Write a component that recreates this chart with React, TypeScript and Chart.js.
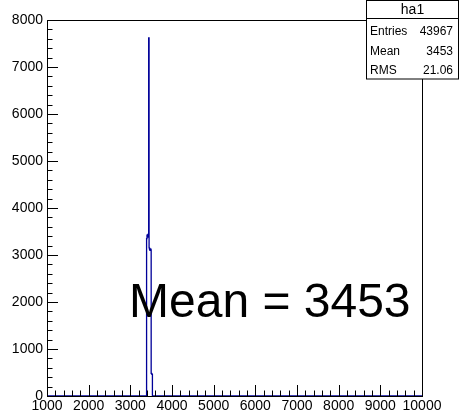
import { useEffect, useRef } from "react";
import { Chart, registerables } from "chart.js";

Chart.register(...registerables);

// Histogram "ha1": bin low edges and counts (bin width 10)
const binLowEdges = [3390, 3400, 3410, 3420, 3430, 3440, 3450, 3460, 3470, 3480, 3490, 3500, 3510, 3520];
const binWidth = 10;
const binCounts = [3350, 3420, 3380, 3440, 3410, 7620, 3150, 3120, 3100, 3130, 3110, 480, 470, 460];

const xMin = 1000;
const xMax = 10000;
const xMajorStep = 1000;
const xMinorStep = 200;
const yMin = 0;
const yMax = 8000;
const yMajorStep = 1000;
const yMinorStep = 200;

const statsTitle = "ha1";
const statsLabels = ["Entries", "Mean", "RMS"];
const statsValues = ["43967", "3453", "21.06"];
const annotationText = "Mean = 3453";

const FONT = "'Liberation Sans', Arial, Helvetica, sans-serif";
const LINE_COLOR = "#000099";

function buildOutline() {
  const pts: { x: number; y: number }[] = [{ x: xMin, y: 0 }];
  binLowEdges.forEach((e, i) => pts.push({ x: e, y: binCounts[i] }));
  pts.push({ x: binLowEdges[binLowEdges.length - 1] + binWidth, y: 0 });
  pts.push({ x: xMax, y: 0 });
  return pts;
}

const rootDecor = {
  id: "rootDecor",
  afterDraw(chart: any) {
    const ctx = chart.ctx as CanvasRenderingContext2D;
    const { left, right, top, bottom } = chart.chartArea;
    const xs = chart.scales.x;
    const ys = chart.scales.y;
    ctx.save();
    ctx.strokeStyle = "#000";
    ctx.lineWidth = 1;
    // frame
    ctx.strokeRect(Math.round(left) + 0.5, Math.round(top) + 0.5, Math.round(right - left), Math.round(bottom - top));
    // inward ticks
    ctx.beginPath();
    for (let v = xMin; v <= xMax + 1e-6; v += xMinorStep) {
      const px = Math.round(xs.getPixelForValue(v)) + 0.5;
      const major = Math.abs((v - xMin) % xMajorStep) < 1e-6;
      const len = major ? 11 : 5.5;
      ctx.moveTo(px, bottom);
      ctx.lineTo(px, bottom - len);
    }
    for (let v = yMin; v <= yMax + 1e-6; v += yMinorStep) {
      const py = Math.round(ys.getPixelForValue(v)) + 0.5;
      const major = Math.abs((v - yMin) % yMajorStep) < 1e-6;
      const len = major ? 11 : 5.5;
      ctx.moveTo(left, py);
      ctx.lineTo(left + len, py);
    }
    ctx.stroke();

    // stats box
    const bx = 366.5, by = 0.5, bw = 92, bh = 78.5;
    ctx.fillStyle = "#fff";
    ctx.fillRect(bx, by, bw, bh);
    ctx.strokeRect(bx, by, bw, bh);
    ctx.beginPath();
    ctx.moveTo(bx, 18.5);
    ctx.lineTo(bx + bw, 18.5);
    ctx.stroke();
    ctx.fillStyle = "#000";
    ctx.textBaseline = "middle";
    ctx.textAlign = "center";
    ctx.font = `14px ${FONT}`;
    ctx.fillText(statsTitle, bx + bw / 2, 10);
    ctx.font = `12px ${FONT}`;
    const rowY = [32, 52, 71];
    statsLabels.forEach((lab, i) => {
      ctx.textAlign = "left";
      ctx.fillText(lab, 370, rowY[i]);
      ctx.textAlign = "right";
      ctx.fillText(statsValues[i], 453, rowY[i]);
    });

    // annotation
    ctx.textAlign = "left";
    ctx.textBaseline = "alphabetic";
    ctx.font = `48px ${FONT}`;
    ctx.fillText(annotationText, 129, 317);
    ctx.restore();
  },
};

export default function App() {
  const ref = useRef<HTMLCanvasElement | null>(null);
  useEffect(() => {
    document.body.style.margin = "0";
    const canvas = ref.current!;
    const chart = new Chart(canvas, {
      type: "line",
      data: {
        datasets: [
          {
            data: buildOutline(),
            stepped: "before",
            borderColor: LINE_COLOR,
            borderWidth: 1.3,
            pointRadius: 0,
            fill: false,
          },
        ],
      },
      options: {
        animation: false,
        responsive: false,
        maintainAspectRatio: false,
        events: [],
        layout: { padding: { top: 20, right: 39, left: 0, bottom: 0 } },
        plugins: { legend: { display: false }, tooltip: { enabled: false } },
        scales: {
          x: {
            type: "linear",
            min: xMin,
            max: xMax,
            afterFit: (s: any) => { s.height = 20; },
            grid: { display: false, drawTicks: false },
            border: { display: false },
            ticks: {
              stepSize: xMajorStep,
              color: "#000",
              font: { family: FONT, size: 14 },
              padding: 2,
              maxRotation: 0,
              autoSkip: false,
              callback: (v: any) => String(v),
            },
          },
          y: {
            type: "linear",
            min: yMin,
            max: yMax,
            afterFit: (s: any) => { s.width = 47; },
            grid: { display: false, drawTicks: false },
            border: { display: false },
            ticks: {
              stepSize: yMajorStep,
              color: "#000",
              font: { family: FONT, size: 14 },
              padding: 4,
              autoSkip: false,
              callback: (v: any) => String(v),
            },
          },
        },
      },
      plugins: [rootDecor],
    });
    return () => chart.destroy();
  }, []);
  return <canvas ref={ref} width={461} height={416} style={{ display: "block" }} />;
}
